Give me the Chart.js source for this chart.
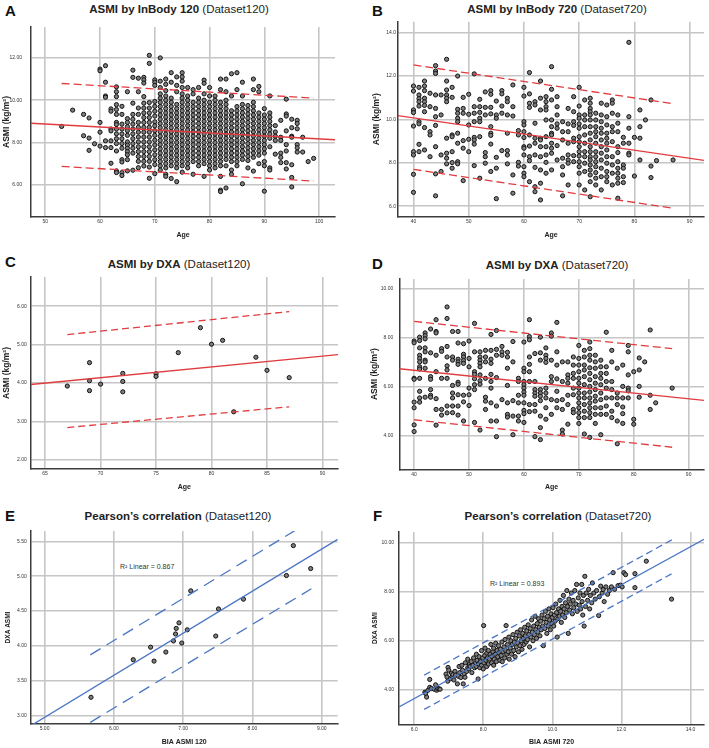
<!DOCTYPE html>
<html>
<head>
<meta charset="utf-8">
<script src="https://cdn.jsdelivr.net/npm/chart.js@4.4.1/dist/chart.umd.min.js"></script>
<style>
  body { margin: 0; background: #fff; width: 709px; height: 748px; position: relative; overflow: hidden;
         font-family: "Liberation Sans", Arial, sans-serif; }
  canvas { position: absolute; }
  .letter { position: absolute; font-weight: bold; font-size: 15px; line-height: 15px; color: #111; }
  .title { position: absolute; font-size: 11.5px; line-height: 14px; color: #222; white-space: nowrap; transform: translateX(-50%); }
  .r2 { position: absolute; font-size: 7px; line-height: 8px; color: #333; white-space: nowrap; }
</style>
</head>
<body>
<div class="letter" style="left:5px;top:3px">A</div>
<div class="letter" style="left:372px;top:3px">B</div>
<div class="letter" style="left:5px;top:254px">C</div>
<div class="letter" style="left:372px;top:256px">D</div>
<div class="letter" style="left:5px;top:508px">E</div>
<div class="letter" style="left:373px;top:508px">F</div>

<div class="title" style="left:179px;top:2px"><b>ASMI by InBody 120</b> (Dataset120)</div>
<div class="title" style="left:557px;top:2px"><b>ASMI by InBody 720</b> (Dataset720)</div>
<div class="title" style="left:179px;top:257px"><b>ASMI by DXA</b> (Dataset120)</div>
<div class="title" style="left:557px;top:258px"><b>ASMI by DXA</b> (Dataset720)</div>
<div class="title" style="left:178px;top:509px"><b>Pearson’s correlation</b> (Dataset120)</div>
<div class="title" style="left:558px;top:509px"><b>Pearson’s correlation</b> (Dataset720)</div>

<div class="r2" style="left:120px;top:563px">R² Linear = 0.867</div>
<div class="r2" style="left:490px;top:580px">R² Linear = 0.893</div>

<canvas id="cA"></canvas>
<canvas id="cB"></canvas>
<canvas id="cC"></canvas>
<canvas id="cD"></canvas>
<canvas id="cE"></canvas>
<canvas id="cF"></canvas>

<script>
// ---- Painel A: ASMI InBody 120 por idade (colunas: idade, valores)
const colsA = [
  [53, [8.76]], [55, [9.53]], [57, [9.33, 8.32]], [58, [9.16, 8.21, 7.63]], [59, [7.94]],
  [60, [11.47, 11.39, 8.95, 8.49, 7.83]],
  [61, [11.63, 10.85, 10.2, 10.14, 8.08, 7.76]],
  [62, [9.59, 9.48, 8.64, 8.55, 8.08, 7.76, 7.02]],
  [63, [10.63, 10.4, 10.17, 9.79, 9.56, 9.33, 8.95, 8.85, 8.64, 8.41, 8.18, 7.95, 7.6, 6.66, 6.58]],
  [64, [9.71, 9.33, 8.87, 8.64, 8.41, 8.18, 7.95, 7.73, 7.19, 7.08, 6.58, 6.44]],
  [65, [10.4, 9.13, 8.95, 8.75, 8.56, 8.34, 8.03, 7.88, 7.73, 7.57, 7.42, 7.19, 6.66]],
  [66, [11.42, 11.08, 9.86, 9.33, 9.1, 8.87, 8.64, 8.41, 8.18, 7.95, 7.73, 7.5, 6.69]],
  [67, [11.04, 10.4, 9.63, 9.33, 8.95, 8.72, 8.49, 8.26, 8.03, 7.8, 7.57, 7.34, 7.11, 6.81]],
  [68, [11.08, 10.96, 10.81, 10.17, 9.86, 9.63, 9.4, 9.18, 8.95, 8.72, 8.49, 8.26, 8.03, 7.8, 7.57, 7.34, 7.11, 6.89]],
  [69, [12.12, 11.74, 9.89, 9.63, 9.4, 9.18, 8.95, 8.72, 8.49, 8.26, 8.03, 7.8, 7.57, 7.34, 7.11, 6.84, 6.31]],
  [70, [10.96, 10.85, 10.7, 9.94, 9.71, 9.48, 9.25, 8.98, 8.79, 8.56, 8.34, 8.11, 7.88, 7.65, 7.42, 7.19, 6.96, 6.53]],
  [71, [12.0, 10.9, 10.6, 10.3, 10.1, 9.9, 9.7, 9.5, 9.3, 9.1, 8.9, 8.7, 8.5, 8.3, 8.1, 7.9, 7.7, 7.5, 7.3, 7.1, 6.9, 6.7]],
  [72, [11.0, 10.75, 10.45, 10.2, 10.0, 9.8, 9.6, 9.4, 9.2, 9.0, 8.8, 8.6, 8.4, 8.2, 8.0, 7.8, 7.6, 7.4, 7.2, 7.0, 6.8, 6.5, 6.4]],
  [73, [11.3, 10.85, 10.1, 9.9, 9.7, 9.5, 9.3, 9.1, 8.9, 8.7, 8.5, 8.3, 8.1, 7.9, 7.7, 7.5, 7.3, 7.1, 6.9, 6.3]],
  [74, [11.1, 10.7, 10.4, 9.8, 9.6, 9.4, 9.2, 9.0, 8.8, 8.6, 8.4, 8.2, 8.0, 7.8, 7.6, 7.4, 7.2, 7.0, 6.8, 6.15]],
  [75, [11.3, 11.1, 10.9, 10.6, 10.3, 10.1, 9.9, 9.7, 9.5, 9.3, 9.1, 8.9, 8.7, 8.5, 8.3, 8.1, 7.9, 7.7, 7.5, 7.3, 7.1, 6.9, 6.6]],
  [76, [10.6, 10.2, 10.0, 9.8, 9.6, 9.4, 9.2, 9.0, 8.8, 8.6, 8.4, 8.2, 8.0, 7.8, 7.6, 7.4, 7.2, 7.0, 6.8]],
  [77, [10.5, 10.3, 9.9, 9.7, 9.5, 9.3, 9.1, 8.9, 8.7, 8.5, 8.3, 8.1, 7.9, 7.7, 7.5, 7.3, 7.1, 6.5]],
  [78, [10.6, 10.1, 9.9, 9.7, 9.5, 9.3, 9.1, 8.9, 8.7, 8.5, 8.3, 8.1, 7.9, 7.7, 7.5, 7.3, 7.1, 6.9]],
  [79, [10.95, 10.8, 10.3, 10.0, 9.8, 9.6, 9.4, 9.2, 9.0, 8.8, 8.6, 8.4, 8.2, 8.0, 7.8, 7.6, 7.4, 7.2, 7.0, 6.4]],
  [80, [10.6, 10.2, 9.9, 9.7, 9.5, 9.3, 9.1, 8.9, 8.7, 8.5, 8.3, 8.1, 7.9, 7.7, 7.5, 7.3, 7.1, 6.9, 6.7]],
  [81, [10.2, 10.0, 9.8, 9.6, 9.4, 9.2, 9.0, 8.8, 8.6, 8.4, 8.2, 8.0, 7.8, 7.6, 7.4, 7.2, 7.0, 6.8]],
  [82, [11.0, 10.5, 9.9, 9.7, 9.5, 9.3, 9.1, 8.9, 8.7, 8.5, 8.3, 8.1, 7.9, 7.7, 7.5, 7.3, 7.1, 6.9, 6.4, 5.75, 5.68]],
  [83, [11.0, 10.4, 10.0, 9.8, 9.6, 9.4, 9.2, 9.0, 8.8, 8.6, 8.4, 8.2, 8.0, 7.8, 7.6, 7.4, 7.2, 6.9, 5.85]],
  [84, [11.25, 10.2, 9.5, 9.3, 9.1, 8.9, 8.7, 8.5, 8.3, 8.1, 7.9, 7.7, 7.5, 7.3, 7.1, 6.7, 6.5]],
  [85, [11.3, 10.5, 9.7, 9.5, 9.3, 9.1, 8.9, 8.7, 8.5, 8.3, 8.1, 7.9, 7.7, 7.5, 7.3, 7.1, 6.9]],
  [86, [10.85, 10.2, 9.8, 9.6, 9.4, 9.2, 9.0, 8.8, 8.6, 8.4, 8.2, 8.0, 7.8, 7.6, 7.4, 7.2, 6.05]],
  [87, [9.75, 9.55, 9.35, 9.15, 8.95, 8.75, 8.55, 8.35, 8.15, 7.95, 7.75, 7.55, 7.35, 7.15, 6.8]],
  [88, [11.0, 10.5, 9.9, 9.7, 9.5, 9.3, 9.1, 8.9, 8.7, 8.5, 8.3, 8.1, 7.9, 7.7, 7.5, 7.3, 6.65]],
  [89, [10.65, 10.4, 9.4, 9.2, 9.0, 8.8, 8.6, 8.4, 8.2, 8.0, 7.8, 7.6, 7.4, 7.0]],
  [90, [9.6, 9.3, 9.1, 8.9, 8.7, 8.5, 8.3, 8.1, 7.9, 7.7, 7.5, 7.1, 6.9, 5.7]],
  [91, [10.2, 9.4, 9.2, 9.0, 8.8, 8.6, 8.4, 8.2, 7.8, 6.8, 6.7]],
  [92, [8.8, 8.5, 8.3, 8.1, 7.45]],
  [93, [9.05, 8.25, 8.1, 7.5, 7.3, 7.05]],
  [94, [10.05, 9.35, 9.25, 8.55, 7.9, 7.6, 7.05, 6.75]],
  [95, [9.1, 8.7, 8.3, 8.25, 6.95, 6.35, 5.9]],
  [96, [9.05, 8.9, 8.65, 7.9, 7.75, 7.55]],
  [97, [8.25, 7.55]], [98, [7.1]], [99, [7.25]]
];
const fitA = [[47.4, 8.91], [102.9, 8.13]];
const upperA = [[53, 10.79], [99, 10.10]];
const lowerA = [[53, 6.87], [99, 6.18]];
const xRangeA = [47.4, 102.9];
const yRangeA = [4.48, 13.46];
const xTicksA = ['50', '60', '70', '80', '90', '100'];
const yTicksA = ['6.00', '8.00', '10.00', '12.00'];

// ---- Painel B: ASMI InBody 720 por idade
const colsB = [
  [40, [11.53, 11.3, 10.43, 10.31, 9.69, 8.51, 8.36, 7.47, 6.64]],
  [41, [11.47, 11.12, 10.95, 10.81, 10.61, 9.89, 9.79, 8.85, 8.51]],
  [42, [11.76, 11.53, 11.32, 10.97, 10.81, 10.64, 10.35, 9.62, 8.59]],
  [43, [11.2, 10.58, 9.43, 9.28, 8.28]],
  [44, [12.47, 12.22, 12.11, 11.12, 10.5, 10.12, 9.72, 8.74, 7.49, 6.48]],
  [45, [11.12, 10.2, 8.36, 7.6]],
  [46, [12.76, 11.76, 11.35, 11.12, 10.97, 10.81, 9.13, 8.44, 8.21, 7.95]],
  [47, [11.47, 11.01, 9.28, 9.2, 8.51, 8.01, 7.75]],
  [48, [11.99, 10.46, 10.28, 10.05, 9.89, 9.36, 8.9, 8.05, 7.95]],
  [49, [11.01, 10.5, 10.28, 9.02, 8.67, 7.18]],
  [50, [11.15, 10.23, 9.74, 9.08, 8.51]],
  [51, [12.09, 10.58, 10.28, 9.89, 9.17, 9.05, 8.86, 7.87]],
  [52, [10.92, 10.58, 10.32, 10.05, 9.89, 9.2, 7.29]],
  [53, [11.26, 10.55, 10.2, 8.47, 8.28, 7.98]],
  [54, [11.32, 11.15, 10.55, 10.25, 9.66, 9.36, 9.26, 8.86, 7.6]],
  [55, [10.84, 10.2, 10.05, 8.25, 7.75, 6.35]],
  [56, [11.32, 11.17, 10.61, 10.28, 8.56]],
  [57, [10.97, 10.81, 10.2, 9.36, 8.56, 8.36, 7.95]],
  [58, [11.58, 10.58, 10.15, 7.44, 6.6]],
  [59, [9.48, 9.28, 8.02, 7.85]],
  [60, [11.47, 11.07, 9.89, 9.74, 9.43, 9.16, 8.74, 8.67, 8.36, 7.82, 7.52, 7.36]],
  [61, [12.15, 11.17, 10.74, 10.55, 9.28, 8.77, 8.28, 8.1, 7.13]],
  [62, [10.81, 10.66, 9.82, 9.13, 8.9, 8.36, 7.79, 6.9, 6.67]],
  [63, [11.76, 10.97, 10.43, 9.13, 9.05, 8.74, 8.28, 7.67, 7.06, 6.29]],
  [64, [11.04, 10.81, 10.58, 10.43, 9.97, 9.2, 8.74, 8.36, 8.02, 7.52]],
  [65, [12.42, 11.38, 10.89, 9.97, 9.66, 9.36, 9.28, 8.9, 8.67, 8.44, 7.67]],
  [66, [11.04, 10.58, 10.2, 9.79, 9.59, 8.79, 8.13]],
  [67, [9.89, 9.43, 9.05, 8.21, 7.82, 7.44, 6.48]],
  [68, [10.5, 9.79, 9.43, 8.9, 8.36, 8.13, 7.98, 6.98]],
  [69, [11.04, 10.35, 9.89, 9.72, 9.13, 8.97, 8.33, 8.05]],
  [70, [11.47, 10.61, 10.2, 10.05, 9.79, 9.59, 9.2, 8.97, 8.74, 8.51, 8.31, 8.05, 7.82, 7.52, 6.98]],
  [71, [10.89, 10.2, 9.97, 9.66, 9.28, 8.9, 8.51, 8.28, 7.98, 7.6, 6.75]],
  [72, [10.97, 10.74, 10.5, 10.35, 10.2, 9.97, 9.66, 9.36, 9.05, 8.74, 8.51, 8.28, 8.13, 7.9, 7.67, 7.44, 7.13, 6.44]],
  [73, [10.28, 9.97, 9.66, 9.43, 9.2, 8.9, 8.51, 8.28, 8.05, 7.82, 7.55, 7.29, 6.98]],
  [74, [10.74, 10.2, 9.89, 9.59, 9.36, 9.05, 8.74, 8.44, 8.13, 7.75, 7.36, 6.75]],
  [75, [10.66, 10.12, 9.74, 9.36, 9.13, 8.9, 8.59, 8.28, 7.98, 7.6, 7.36, 7.13]],
  [76, [10.89, 10.74, 10.28, 9.66, 9.43, 8.97, 8.28, 7.9, 7.52, 6.98]],
  [77, [10.2, 9.82, 9.43, 8.74, 8.47, 8.05, 7.75, 7.52, 7.29, 7.06, 6.37]],
  [78, [9.17, 8.9, 7.9, 7.75, 7.36, 7.09]],
  [79, [13.54, 10.12, 9.59, 8.9, 8.44, 8.36]],
  [80, [9.17, 7.39]],
  [81, [10.43, 9.66, 9.13, 8.13]],
  [82, [9.97]],
  [83, [10.89, 7.85, 7.32]],
  [84, [8.1]], [87, [8.13]]
];
const fitB = [[37.2, 10.17], [92.6, 8.11]];
const upperB = [[40, 12.50], [87, 10.72]];
const lowerB = [[40, 7.70], [87, 5.91]];
const xRangeB = [37.2, 92.6];
const yRangeB = [5.52, 14.49];
const xTicksB = ['40', '50', '60', '70', '80', '90'];
const yTicksB = ['6.0', '8.0', '10.0', '12.0', '14.0'];

// ---- Painel C: ASMI DXA (Dataset120)
const pointsC = [
  [67, 3.92], [69, 4.53], [69, 4.06], [69, 3.80], [70, 3.97], [72, 4.25], [72, 4.04], [72, 3.77],
  [75, 4.24], [75, 4.17], [77, 4.79], [79, 5.44], [80, 5.01], [81, 5.11], [82, 3.25], [84, 4.67],
  [85, 4.33], [87, 4.14]
];
const fitC = [[63.7, 3.96], [91.4, 4.74]];
const upperC = [[67, 5.26], [87, 5.86]];
const lowerC = [[67, 2.84], [87, 3.38]];
const xRangeC = [63.7, 91.4];
const yRangeC = [1.76, 6.76];
const xTicksC = ['65', '70', '75', '80', '85', '90'];
const yTicksC = ['2.00', '3.00', '4.00', '5.00', '6.00'];

// ---- Painel D: ASMI DXA (Dataset720)
const colsD = [
  [40, [7.86, 7.79, 6.34, 6.3, 5.37, 5.14, 4.44, 4.17]],
  [41, [8.02, 7.88, 7.58, 7.28, 7.15, 7.01, 6.81, 6.72, 6.34, 5.81, 5.54, 5.37]],
  [42, [8.19, 8.08, 7.95, 7.58, 7.42, 7.08, 7.01, 6.75, 5.57]],
  [43, [8.35, 7.38, 6.41, 6.3, 5.88, 5.65, 5.57]],
  [44, [8.73, 8.25, 8.19, 7.28, 6.61, 5.51, 5.07, 4.43]],
  [45, [7.55, 7.44, 6.34, 5.07, 4.84]],
  [46, [9.25, 8.78, 7.64, 7.21, 6.85, 6.68, 6.34, 5.21, 4.93]],
  [47, [8.25, 7.21, 7.08, 6.05, 5.74, 5.54, 5.21, 4.94]],
  [48, [8.25, 7.78, 7.12, 7.01, 6.91, 6.18, 6.1, 5.67, 5.21, 4.84]],
  [49, [7.75, 7.32, 7.21, 7.07, 6.95, 5.65, 5.38, 4.6]],
  [50, [7.86, 7.15, 6.81, 5.94, 5.67, 5.23]],
  [51, [8.58, 7.42, 6.61, 6.5, 6.32, 6.08, 5.88, 4.54]],
  [52, [7.42, 7.21, 7.08, 6.95, 6.81, 6.48, 6.24, 6.1, 4.23]],
  [53, [7.48, 7.21, 7.01, 6.34, 5.57, 5.41, 5.07]],
  [54, [8.13, 7.48, 7.12, 6.95, 6.5, 6.21, 5.94, 5.34, 4.6]],
  [55, [8.29, 7.52, 7.28, 6.37, 5.21, 4.6, 3.96]],
  [56, [7.64, 7.42, 7.28, 5.47]],
  [57, [7.4, 7.21, 6.75, 6.05, 5.34, 4.87, 4.76]],
  [58, [7.84, 7.01, 5.43, 4.8, 4.04]],
  [59, [6.34, 6.21, 5.65, 5.34, 4.8, 4.6]],
  [60, [7.82, 6.75, 6.61, 6.21, 6.08, 5.94, 5.78, 5.65, 5.34, 5.03, 4.9, 4.54]],
  [61, [8.73, 8.04, 7.91, 7.21, 6.91, 6.61, 6.21, 5.27, 4.98]],
  [62, [7.35, 6.21, 5.88, 5.74, 5.61, 5.27, 5.0, 3.96]],
  [63, [8.02, 7.38, 7.08, 5.88, 5.74, 5.61, 5.43, 4.8, 4.33, 3.84]],
  [64, [7.58, 7.28, 7.15, 6.99, 5.94, 5.74, 5.54, 5.14, 4.67]],
  [65, [8.19, 8.06, 7.08, 6.41, 6.21, 5.47, 4.87]],
  [66, [8.62, 7.42, 6.88, 6.32, 5.81, 5.43, 5.14]],
  [67, [7.01, 6.21, 5.47, 5.07, 4.23, 4.07]],
  [68, [7.01, 6.48, 6.34, 6.14, 5.65, 5.27, 4.47]],
  [69, [7.21, 6.88, 6.54, 6.34, 5.94, 5.67, 5.07, 4.94]],
  [70, [7.68, 7.15, 6.88, 6.61, 6.34, 6.14, 5.94, 5.74, 5.54, 5.34, 5.14, 4.94, 4.74, 4.5]],
  [71, [7.48, 7.21, 6.88, 6.68, 6.41, 6.08, 5.74, 5.54, 5.27, 5.0, 4.74, 4.07]],
  [72, [7.82, 7.55, 7.28, 7.08, 6.77, 6.54, 6.28, 6.01, 5.78, 5.54, 5.34, 5.14, 4.94, 4.74, 3.93]],
  [73, [7.28, 7.01, 6.75, 6.41, 6.14, 5.88, 5.61, 5.41, 5.14, 4.87, 4.5]],
  [74, [7.08, 6.81, 6.54, 6.34, 6.08, 5.74, 5.47, 5.14, 4.87, 4.04]],
  [75, [8.22, 6.81, 6.54, 6.21, 5.94, 5.54, 5.21, 4.87]],
  [76, [7.48, 7.01, 6.21, 5.88, 5.54, 5.0, 4.74]],
  [77, [6.75, 5.74, 5.54, 5.27, 4.6, 3.67]],
  [78, [6.88, 6.01, 5.54, 5.17, 4.9, 4.5]],
  [79, [7.68, 7.42, 6.48, 5.94, 5.83, 5.54]],
  [80, [6.61, 4.67, 4.47]],
  [81, [7.17, 6.68, 6.01, 5.57]],
  [82, [7.01]],
  [83, [8.31, 5.65, 5.07]],
  [84, [5.34]], [87, [5.94]]
];
const fitD = [[37.3, 6.73], [92.8, 5.44]];
const upperD = [[40, 8.66], [87, 7.55]];
const lowerD = [[40, 4.65], [87, 3.53]];
const xRangeD = [37.3, 92.8];
const yRangeD = [2.63, 10.39];
const xTicksD = ['40', '50', '60', '70', '80', '90'];
const yTicksD = ['4.00', '6.00', '8.00', '10.00'];

// ---- Painel E: BIA ASMI 120 x DXA ASMI
const pointsE = [
  [5.67, 3.26], [6.28, 3.80], [6.53, 3.98], [6.58, 3.78], [6.75, 3.91], [6.86, 4.07], [6.89, 4.17],
  [6.90, 4.25], [6.94, 4.33], [6.98, 4.04], [7.06, 4.23], [7.11, 4.79], [7.47, 4.14], [7.51, 4.53],
  [7.87, 4.67], [8.49, 5.01], [8.59, 5.44], [8.84, 5.11]
];
const fitE = [[4.80, 2.85], [9.23, 5.53]];
const upperE = [[5.66, 3.87], [8.85, 5.80]];
const lowerE = [[5.66, 2.90], [8.85, 4.82]];
const xRangeE = [4.80, 9.23];
const yRangeE = [2.876, 5.65];
const xTicksE = ['5.00', '6.00', '7.00', '8.00', '9.00'];
const yTicksE = ['3.00', '3.50', '4.00', '4.50', '5.00', '5.50'];

// ---- Painel F: BIA ASMI 720 x DXA ASMI
const pointsF = [
  [6.31, 3.9], [6.33, 3.85], [6.36, 3.70], [6.4, 3.98], [6.45, 4.1], [6.45, 4.42], [6.5, 4.05], [6.58, 4.02],
  [6.62, 4.2], [6.65, 3.98], [6.68, 4.05], [6.72, 4.04], [6.75, 4.02], [6.92, 4.64], [6.95, 4.52], [6.98, 4.91],
  [7.0, 4.8], [6.97, 4.35], [7.05, 4.45], [7.08, 4.68], [7.1, 4.55], [7.12, 4.62], [7.15, 4.4], [7.18, 4.75],
  [7.2, 4.6], [7.25, 4.24], [7.28, 4.55], [7.3, 4.95], [7.32, 4.7], [7.35, 4.5], [7.38, 5.0], [7.4, 4.8],
  [7.42, 4.24], [7.45, 4.65], [7.47, 4.51], [7.48, 5.1], [7.52, 4.75], [7.55, 4.9], [7.55, 5.25], [7.58, 4.85],
  [7.6, 5.05], [7.62, 4.95], [7.65, 5.15], [7.67, 4.7], [7.7, 5.0], [7.72, 5.3], [7.75, 4.9], [7.78, 5.1],
  [7.8, 5.45], [7.8, 4.95], [7.82, 5.2], [7.85, 4.44], [7.86, 5.05], [7.88, 5.35], [7.9, 4.9], [7.92, 5.15],
  [7.95, 5.6], [7.95, 5.0], [7.98, 5.3], [8.0, 4.85], [8.01, 6.62], [8.02, 5.1], [8.04, 5.4], [8.05, 5.7],
  [8.08, 5.2], [8.1, 4.95], [8.1, 5.5], [8.12, 5.3], [8.15, 5.05], [8.15, 5.6], [8.18, 5.25], [8.2, 5.45],
  [8.22, 5.85], [8.24, 5.1], [8.25, 5.35], [8.28, 5.55], [8.3, 5.0], [8.3, 5.7], [8.32, 5.25], [8.35, 5.45],
  [8.36, 5.9], [8.38, 5.15], [8.4, 5.6], [8.42, 5.35], [8.44, 5.8], [8.46, 5.5], [8.48, 5.2], [8.5, 5.65],
  [8.52, 5.4], [8.54, 5.95], [8.55, 5.15], [8.57, 5.55], [8.6, 5.75], [8.62, 5.3], [8.63, 6.05], [8.65, 5.6],
  [8.66, 6.62], [8.68, 5.45], [8.7, 5.85], [8.72, 5.55], [8.74, 6.15], [8.75, 5.25], [8.78, 5.7], [8.8, 6.0],
  [8.82, 5.45], [8.84, 5.85], [8.86, 6.25], [8.88, 5.6], [8.9, 5.95], [8.92, 5.35], [8.94, 6.1], [8.96, 5.75],
  [8.98, 6.35], [9.0, 5.9], [9.02, 5.55], [9.04, 6.2], [9.06, 5.8], [9.08, 6.45], [9.1, 6.0], [9.12, 5.65],
  [9.14, 6.3], [9.16, 6.1], [9.18, 5.85], [9.2, 6.55], [9.22, 6.2], [9.24, 5.95], [9.26, 6.4], [9.28, 6.05],
  [9.3, 6.65], [9.32, 6.25], [9.34, 5.75], [9.36, 6.5], [9.38, 6.15], [9.4, 6.85], [9.42, 6.35], [9.44, 6.0],
  [9.46, 6.6], [9.48, 6.25], [9.5, 7.0], [9.52, 6.45], [9.54, 6.1], [9.56, 6.7], [9.58, 6.35], [9.6, 6.9],
  [9.62, 6.55], [9.64, 6.2], [9.66, 6.8], [9.68, 6.45], [9.7, 7.05], [9.72, 6.6], [9.74, 5.8], [9.76, 6.9],
  [9.78, 6.5], [9.8, 7.2], [9.82, 6.75], [9.84, 6.3], [9.86, 7.0], [9.88, 6.6], [9.9, 7.3], [9.92, 6.85],
  [9.94, 6.45], [9.96, 7.1], [9.98, 6.7], [10.0, 6.95], [10.02, 7.35], [10.04, 6.6], [10.06, 7.05], [10.08, 6.8],
  [10.1, 7.5], [10.12, 7.15], [10.14, 6.15], [10.16, 6.9], [10.18, 7.3], [10.2, 7.0], [10.22, 7.65], [10.24, 7.2],
  [10.26, 6.75], [10.28, 7.4], [10.3, 7.05], [10.32, 7.85], [10.34, 7.3], [10.36, 6.95], [10.38, 7.55], [10.4, 7.15],
  [10.42, 8.05], [10.44, 7.4], [10.46, 6.3], [10.48, 7.7], [10.5, 7.25], [10.52, 7.5], [10.55, 7.95], [10.58, 7.1],
  [10.6, 7.65], [10.62, 7.35], [10.65, 8.05], [10.68, 7.5], [10.7, 8.3], [10.72, 7.2], [10.75, 7.75], [10.78, 7.45],
  [10.8, 7.95], [10.82, 7.3], [10.85, 8.3], [10.86, 7.6], [10.88, 7.05], [10.9, 7.85], [10.92, 6.6], [10.94, 8.63],
  [10.96, 7.4], [10.98, 7.95], [11.02, 7.65], [11.05, 8.1], [11.08, 7.3], [11.1, 7.85], [11.14, 7.55], [11.16, 8.36],
  [11.2, 7.95], [11.24, 7.7], [11.28, 8.05], [11.34, 7.03], [11.36, 7.8], [11.4, 8.23], [11.44, 7.95], [11.47, 8.09],
  [11.5, 7.6], [11.55, 8.2], [11.6, 7.9], [11.65, 8.05], [11.71, 8.2], [11.76, 8.78], [11.8, 8.1], [11.9, 8.25],
  [11.97, 8.27], [12.02, 8.2], [12.07, 8.78], [12.12, 8.7], [12.39, 8.74], [12.39, 8.17], [12.72, 9.25], [13.45, 7.7]
];
const fitF = [[5.56, 3.30], [14.39, 10.14]];
const upperF = [[6.29, 4.60], [13.46, 10.12]];
const lowerF = [[6.29, 3.20], [13.46, 8.74]];
const xRangeF = [5.56, 14.39];
const yRangeF = [2.59, 10.44];
const xTicksF = ['6.0', '8.0', '10.0', '12.0', '14.0'];
const yTicksF = ['4.00', '6.00', '8.00', '10.00'];

// cores
const RED = '#e03c3f';
const BLUE = '#4a76c4';

Chart.defaults.font.family = '"Liberation Sans", Arial, sans-serif';

// colunas (idade, [valores]) -> pontos {x, y}
const fromCols = cols => cols.flatMap(([x, ys]) => ys.map(y => ({ x, y })));
const fromPairs = arr => arr.map(([x, y]) => ({ x, y }));

function buildPanel(id, box, d) {
  const cv = document.getElementById(id);
  cv.width = box.w;
  cv.height = box.h;
  cv.style.left = box.x + 'px';
  cv.style.top = box.y + 'px';
  const [pl, pt, pr, pb] = box.plot;
  const yW = pl - box.x;
  const xH = box.y + box.h - pb;

  const line = (pts, dash) => ({
    data: fromPairs(pts),
    showLine: true,
    borderColor: d.color,
    borderWidth: 1.3,
    borderDash: dash || [],
    pointRadius: 0,
    fill: false
  });

  new Chart(cv, {
    type: 'scatter',
    data: {
      datasets: [
        line(d.fit),
        line(d.upper, d.dash),
        line(d.lower, d.dash),
        {
          data: d.points,
          pointRadius: 2.1,
          pointBackgroundColor: '#7e7e7e',
          pointBorderColor: '#121212',
          pointBorderWidth: 1
        }
      ]
    },
    options: {
      responsive: false,
      animation: false,
      events: [],
      layout: { padding: { left: 0, top: pt - box.y, right: box.x + box.w - pr, bottom: 0 } },
      plugins: { legend: { display: false }, tooltip: { enabled: false } },
      scales: {
        x: {
          type: 'linear',
          min: d.xRange[0],
          max: d.xRange[1],
          afterFit: s => { s.height = xH },
          afterBuildTicks: s => { s.ticks = d.xTicks.map(t => ({ value: parseFloat(t) })) },
          ticks: { callback: (v, i) => d.xTicks[i], font: { size: 5 }, color: '#333', padding: 2, maxRotation: 0, autoSkip: false },
          grid: { color: '#c6c6c6', lineWidth: 1.6, drawTicks: false },
          border: { display: true, color: '#3c3c3c', width: 1.5 },
          title: { display: true, text: d.xTitle, font: { size: 7, weight: 'bold' }, color: '#222', padding: 0 }
        },
        y: {
          type: 'linear',
          min: d.yRange[0],
          max: d.yRange[1],
          afterFit: s => { s.width = yW },
          afterBuildTicks: s => { s.ticks = d.yTicks.map(t => ({ value: parseFloat(t) })) },
          ticks: { callback: (v, i) => d.yTicks[i], font: { size: 5 }, color: '#333', padding: box.tickPad, autoSkip: false },
          grid: { color: '#c6c6c6', lineWidth: 1.6, drawTicks: false },
          border: { display: true, color: '#3c3c3c', width: 1.5 },
          title: { display: true, text: d.yTitle, font: { size: d.yTitleSize, weight: 'bold' }, color: '#222', padding: { top: box.titlePad, bottom: 0 } }
        }
      }
    }
  });
}

const ASMI = 'ASMI (kg/m²)';

buildPanel('cA', { x: 0, y: 15, w: 355, h: 224, plot: [31, 22, 335, 217], tickPad: 9, titlePad: 1.5 }, {
  points: fromCols(colsA), fit: fitA, upper: upperA, lower: lowerA, color: RED, dash: [8, 4],
  xRange: xRangeA, yRange: yRangeA, xTicks: xTicksA, yTicks: yTicksA, xTitle: 'Age', yTitle: ASMI, yTitleSize: 8.5
});
buildPanel('cB', { x: 355, y: 15, w: 354, h: 224, plot: [398, 21.7, 707, 216.7], tickPad: 2, titlePad: 17 }, {
  points: fromCols(colsB), fit: fitB, upper: upperB, lower: lowerB, color: RED, dash: [8, 4],
  xRange: xRangeB, yRange: yRangeB, xTicks: xTicksB, yTicks: yTicksB, xTitle: 'Age', yTitle: ASMI, yTitleSize: 8.5
});
buildPanel('cC', { x: 0, y: 270, w: 355, h: 221, plot: [30.7, 276, 338, 469], tickPad: 4, titlePad: 1.5 }, {
  points: fromPairs(pointsC), fit: fitC, upper: upperC, lower: lowerC, color: RED, dash: [7, 4],
  xRange: xRangeC, yRange: yRangeC, xTicks: xTicksC, yTicks: yTicksC, xTitle: 'Age', yTitle: ASMI, yTitleSize: 8.5
});
buildPanel('cD', { x: 355, y: 270, w: 354, h: 221, plot: [399.3, 276, 706.7, 469.3], tickPad: 6, titlePad: 15 }, {
  points: fromCols(colsD), fit: fitD, upper: upperD, lower: lowerD, color: RED, dash: [8, 4],
  xRange: xRangeD, yRange: yRangeD, xTicks: xTicksD, yTicks: yTicksD, xTitle: 'Age', yTitle: ASMI, yTitleSize: 8.5
});
buildPanel('cE', { x: 0, y: 524, w: 355, h: 222, plot: [30.7, 530, 337.7, 724], tickPad: 4, titlePad: 4.4 }, {
  points: fromPairs(pointsE), fit: fitE, upper: upperE, lower: lowerE, color: BLUE, dash: [12, 7],
  xRange: xRangeE, yRange: yRangeE, xTicks: xTicksE, yTicks: yTicksE, xTitle: 'BIA ASMI 120', yTitle: 'DXA ASMI', yTitleSize: 6.5
});
buildPanel('cF', { x: 355, y: 524, w: 354, h: 222, plot: [399, 529.3, 705, 724.3], tickPad: 5, titlePad: 16.6 }, {
  points: fromPairs(pointsF), fit: fitF, upper: upperF, lower: lowerF, color: BLUE, dash: [7, 4],
  xRange: xRangeF, yRange: yRangeF, xTicks: xTicksF, yTicks: yTicksF, xTitle: 'BIA ASMI 720', yTitle: 'DXA ASMI', yTitleSize: 6.5
});
</script>
</body>
</html>
